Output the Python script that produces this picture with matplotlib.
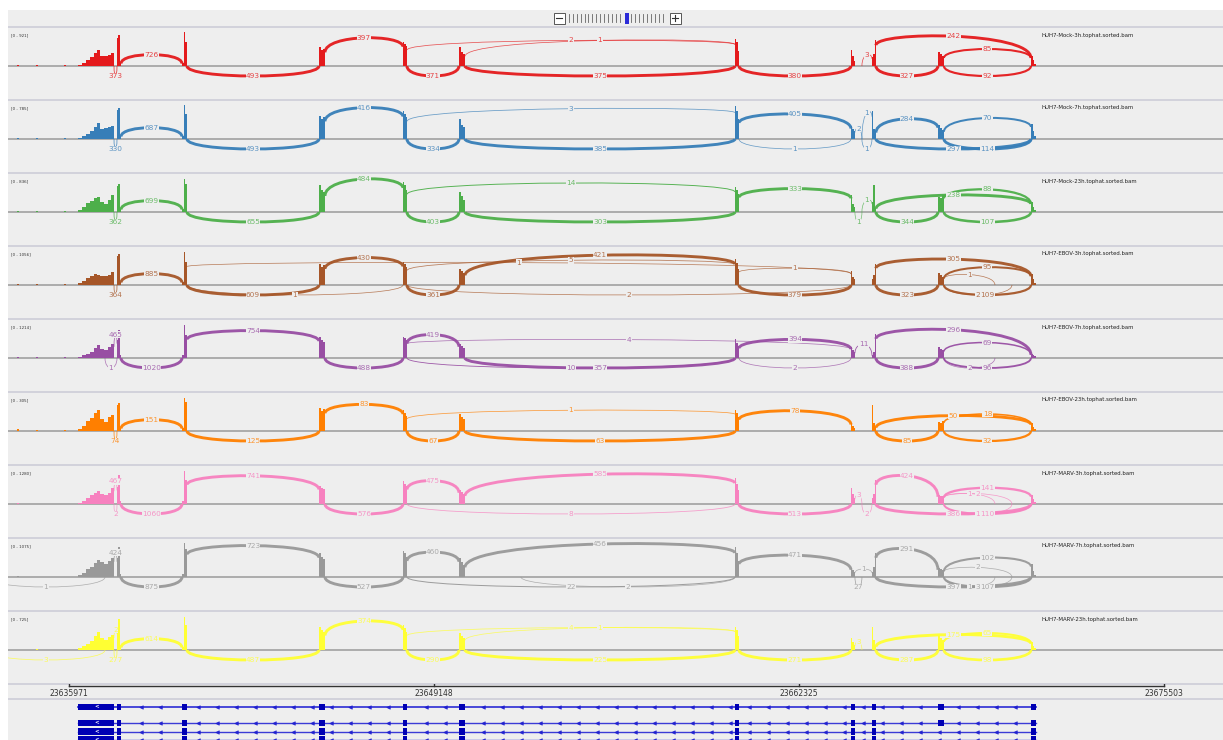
import numpy as np
import matplotlib
matplotlib.use('Agg')
import matplotlib.pyplot as plt
from matplotlib.path import Path
from matplotlib.patches import PathPatch, Rectangle
from matplotlib.colors import to_rgb

W, H = 1223, 740

#---------------- genomic layout (chromosome positions)
tick_pos = [23635971, 23649148, 23662325, 23675503]
view_start, view_end = 23633769, 23677633

exon_names = ['E0', 'E1', 'E2', 'E3', 'E4', 'E5', 'E6', 'E7', 'E8', 'E9', 'E10']
exon_start = [23636296, 23637704, 23640050, 23644996, 23648028, 23650050,
              23660014, 23664201, 23664959, 23667342, 23670699]
exon_end = [23637596, 23637848, 23640231, 23645213, 23648173, 23650267,
            23660158, 23664346, 23665104, 23667558, 23670880]

# extra splice sites that are not exon borders
site_names = ['U0', 'S0', 'M', 'S1', 'X1', 'X2']
site_pos = [23633011, 23637271, 23652288, 23664598, 23669400, 23670013]

# read coverage bins over the 3' UTR (last exon)
ramp_edges = [23636314, 23636440, 23636585, 23636729, 23636873, 23637000,
              23637108, 23637235, 23637379, 23637505, 23637596]
noise_start = [23634094, 23634780, 23635790]

# transcripts of the gene track
tx_exons = [exon_names,
            exon_names,
            [e for e in exon_names if e != 'E9'],
            [e for e in exon_names if e != 'E9']]

#---------------- tracks
track_names = ['HUH7-Mock-3h', 'HUH7-Mock-7h', 'HUH7-Mock-23h',
               'HUH7-EBOV-3h', 'HUH7-EBOV-7h', 'HUH7-EBOV-23h',
               'HUH7-MARV-3h', 'HUH7-MARV-7h', 'HUH7-MARV-23h']
track_ranges = [921, 785, 836, 1056, 1214, 305, 1280, 1075, 725]
track_colors = ['#e41a1c', '#377eb8', '#4daf4a', '#a65628', '#984ea3',
                '#ff7f00', '#f781bf', '#999999', '#ffff33']

# coverage (reads): noise bars, 3'UTR ramp, then E1..E10 in three bins each
mock3h_noise = [26, 26, 26]
mock3h_ramp = [26, 79, 158, 237, 342, 421, 263, 263, 289, 342]
mock3h_exons = [[736, 815, 79], [79, 894, 631], [500, 421, 447], [631, 579, 526],
                [500, 368, 316], [710, 631, 395], [421, 263, 132], [237, 316, 684],
                [368, 316, 263], [263, 158, 53]]

mock7h_noise = [22, 22, 22]
mock7h_ramp = [22, 67, 112, 179, 269, 358, 224, 246, 269, 291]
mock7h_exons = [[650, 694, 67], [67, 762, 560], [515, 448, 493], [627, 560, 493],
                [448, 314, 269], [739, 627, 448], [291, 224, 179], [627, 224, 179],
                [314, 246, 202], [336, 179, 67]]

mock23h_noise = [24, 24, 24]
mock23h_ramp = [48, 120, 215, 263, 335, 359, 239, 191, 287, 406]
mock23h_exons = [[621, 669, 72], [72, 789, 669], [645, 526, 478], [717, 645, 526],
                 [478, 382, 287], [598, 526, 430], [406, 191, 120], [239, 645, 96],
                 [359, 335, 406], [239, 120, 48]]

ebov3h_noise = [30, 30, 30]
ebov3h_ramp = [60, 121, 211, 272, 332, 302, 272, 272, 302, 393]
ebov3h_exons = [[876, 936, 91], [91, 997, 695], [634, 544, 604], [695, 634, 544],
                [483, 423, 362], [785, 664, 483], [423, 242, 181], [181, 302, 634],
                [362, 302, 242], [332, 181, 60]]

ebov7h_noise = [35, 35, 35]
ebov7h_ramp = [35, 104, 139, 208, 347, 451, 312, 278, 382, 486]
ebov7h_exons = [[625, 972, 104], [104, 1145, 798], [729, 625, 555], [729, 694, 625],
                [486, 416, 347], [659, 521, 416], [382, 278, 208], [104, 208, 833],
                [382, 312, 278], [139, 104, 69]]

ebov23h_noise = [17, 9, 9]
ebov23h_ramp = [17, 44, 87, 113, 157, 183, 105, 78, 122, 139]
ebov23h_exons = [[226, 244, 26], [26, 287, 253], [200, 174, 192], [183, 157, 131],
                 [148, 122, 105], [183, 157, 122], [70, 44, 26], [226, 70, 35],
                 [78, 70, 87], [70, 35, 17]]

marv3h_noise = [37, 0, 0]
marv3h_ramp = [37, 110, 220, 329, 403, 476, 366, 329, 403, 586]
marv3h_exons = [[622, 1061, 110], [110, 1208, 878], [659, 586, 549], [842, 732, 659],
                [512, 439, 366], [952, 732, 512], [586, 366, 220], [220, 366, 878],
                [329, 293, 293], [329, 183, 73]]

marv7h_noise = [31, 0, 0]
marv7h_ramp = [61, 123, 246, 307, 430, 522, 461, 399, 491, 583]
marv7h_exons = [[583, 921, 92], [92, 1044, 860], [737, 614, 553], [798, 737, 614],
                [583, 461, 368], [921, 737, 491], [276, 215, 154], [154, 307, 737],
                [276, 246, 215], [399, 184, 61]]

marv23h_noise = [0, 21, 0]
marv23h_ramp = [41, 83, 124, 186, 290, 373, 248, 207, 269, 311]
marv23h_exons = [[414, 642, 62], [62, 683, 518], [476, 414, 373], [518, 455, 373],
                 [352, 290, 248], [476, 414, 290], [248, 166, 104], [476, 207, 83],
                 [311, 248, 207], [166, 83, 41]]

# junctions: (donor, acceptor, reads, side)
mock3h_junc = [('E0', 'E1', 373, 'dn'), ('E1', 'E2', 726, 'up'), ('E2', 'E3', 493, 'dn'),
               ('E3', 'E4', 397, 'up'), ('E4', 'E5', 371, 'dn'), ('E4', 'E6', 2, 'up'),
               ('E5', 'E6', 1, 'up'), ('E5', 'E6', 375, 'dn'), ('E6', 'E7', 380, 'dn'),
               ('S1', 'E8', 3, 'up'), ('E8', 'E9', 327, 'dn'), ('E8', 'E10', 242, 'up'),
               ('E9', 'E10', 85, 'up'), ('E9', 'E10', 92, 'dn')]

mock7h_junc = [('E0', 'E1', 330, 'dn'), ('E1', 'E2', 687, 'up'), ('E2', 'E3', 493, 'dn'),
               ('E3', 'E4', 416, 'up'), ('E4', 'E5', 334, 'dn'), ('E4', 'E6', 3, 'up'),
               ('E5', 'E6', 385, 'dn'), ('E6', 'E7', 405, 'up'), ('E6', 'E7', 1, 'dn'),
               ('E7', 'S1', 2, 'up'), ('S1', 'E8', 1, 'up'), ('S1', 'E8', 1, 'dn'),
               ('E8', 'E9', 284, 'up'), ('E8', 'E10', 297, 'dn'), ('E9', 'E10', 70, 'up'),
               ('E9', 'E10', 114, 'dn')]

mock23h_junc = [('E0', 'E1', 362, 'dn'), ('E1', 'E2', 699, 'up'), ('E2', 'E3', 655, 'dn'),
                ('E3', 'E4', 484, 'up'), ('E4', 'E5', 403, 'dn'), ('E4', 'E6', 14, 'up'),
                ('E5', 'E6', 303, 'dn'), ('E6', 'E7', 333, 'up'), ('E7', 'S1', 1, 'dn'),
                ('S1', 'E8', 1, 'up'), ('E8', 'E9', 344, 'dn'), ('E8', 'E10', 238, 'up'),
                ('E9', 'E10', 88, 'up'), ('E9', 'E10', 107, 'dn')]

ebov3h_junc = [('E0', 'E1', 364, 'dn'), ('E1', 'E2', 885, 'up'), ('E2', 'E3', 609, 'dn'),
               ('E2', 'E4', 1, 'dn'), ('E2', 'E7', 1, 'up'), ('E3', 'E4', 430, 'up'),
               ('E4', 'E5', 361, 'dn'), ('E4', 'E6', 5, 'up'), ('E5', 'E6', 421, 'up'),
               ('E4', 'E7', 2, 'dn'), ('E6', 'E7', 1, 'up'), ('E6', 'E7', 379, 'dn'),
               ('E8', 'E9', 323, 'dn'), ('E8', 'E10', 305, 'up'), ('E9', 'X1', 1, 'up'),
               ('E9', 'E10', 95, 'up'), ('E9', 'X2', 2, 'dn'), ('E9', 'E10', 109, 'dn')]

ebov7h_junc = [('E0', 'E1', 465, 'up'), ('S0', 'E1', 1, 'dn'), ('E1', 'E2', 1020, 'dn'),
               ('E2', 'E3', 754, 'up'), ('E3', 'E4', 488, 'dn'), ('E4', 'E5', 419, 'up'),
               ('E4', 'E6', 10, 'dn'), ('E5', 'E6', 357, 'dn'), ('E4', 'E7', 4, 'up'),
               ('E6', 'E7', 394, 'up'), ('E6', 'E7', 2, 'dn'), ('E7', 'E8', 11, 'up'),
               ('E8', 'E9', 388, 'dn'), ('E8', 'E10', 296, 'up'), ('E9', 'E10', 69, 'up'),
               ('E9', 'X1', 2, 'dn'), ('E9', 'E10', 96, 'dn')]

ebov23h_junc = [('E0', 'E1', 74, 'dn'), ('E1', 'E2', 151, 'up'), ('E2', 'E3', 125, 'dn'),
                ('E3', 'E4', 83, 'up'), ('E4', 'E5', 67, 'dn'), ('E4', 'E6', 1, 'up'),
                ('E5', 'E6', 63, 'dn'), ('E6', 'E7', 78, 'up'), ('E8', 'E9', 85, 'dn'),
                ('E8', 'E10', 50, 'up'), ('E9', 'E10', 18, 'up'), ('E9', 'E10', 32, 'dn')]

marv3h_junc = [('E0', 'E1', 467, 'up'), ('E0', 'E1', 2, 'dn'), ('E1', 'E2', 1060, 'dn'),
               ('E2', 'E3', 741, 'up'), ('E3', 'E4', 576, 'dn'), ('E4', 'E5', 475, 'up'),
               ('E4', 'E6', 8, 'dn'), ('E5', 'E6', 585, 'up'), ('E6', 'E7', 513, 'dn'),
               ('E7', 'S1', 3, 'up'), ('S1', 'E8', 2, 'dn'), ('E8', 'E9', 424, 'up'),
               ('E8', 'E10', 386, 'dn'), ('E9', 'X1', 1, 'up'), ('E9', 'X2', 2, 'up'),
               ('E9', 'E10', 141, 'up'), ('E9', 'X2', 1, 'dn'), ('E9', 'E10', 110, 'dn')]

marv7h_junc = [('U0', 'S0', 1, 'dn'), ('E0', 'E1', 424, 'up'), ('E1', 'E2', 875, 'dn'),
               ('E2', 'E3', 723, 'up'), ('E3', 'E4', 527, 'dn'), ('E4', 'E5', 460, 'up'),
               ('E5', 'E6', 456, 'up'), ('E4', 'E6', 22, 'dn'), ('M', 'E6', 2, 'dn'),
               ('E6', 'E7', 471, 'up'), ('E7', 'E8', 1, 'up'), ('E7', 'S1', 27, 'dn'),
               ('E8', 'E9', 291, 'up'), ('E8', 'E10', 397, 'dn'), ('E9', 'X2', 2, 'up'),
               ('E9', 'E10', 102, 'up'), ('E9', 'X1', 1, 'dn'), ('E9', 'X2', 3, 'dn'),
               ('E9', 'E10', 107, 'dn')]

marv23h_junc = [('U0', 'S0', 3, 'dn'), ('E0', 'E1', 2, 'up'), ('E0', 'E1', 277, 'dn'),
                ('E1', 'E2', 614, 'up'), ('E2', 'E3', 487, 'dn'), ('E3', 'E4', 374, 'up'),
                ('E4', 'E5', 290, 'dn'), ('E4', 'E6', 4, 'up'), ('E5', 'E6', 1, 'up'),
                ('E5', 'E6', 225, 'dn'), ('E6', 'E7', 271, 'dn'), ('E7', 'S1', 3, 'up'),
                ('E8', 'E9', 287, 'dn'), ('E8', 'E10', 175, 'up'), ('E9', 'E10', 65, 'up'),
                ('E9', 'E10', 98, 'dn')]

track_noise = [mock3h_noise, mock7h_noise, mock23h_noise, ebov3h_noise, ebov7h_noise,
               ebov23h_noise, marv3h_noise, marv7h_noise, marv23h_noise]
track_ramp = [mock3h_ramp, mock7h_ramp, mock23h_ramp, ebov3h_ramp, ebov7h_ramp,
              ebov23h_ramp, marv3h_ramp, marv7h_ramp, marv23h_ramp]
track_exons = [mock3h_exons, mock7h_exons, mock23h_exons, ebov3h_exons, ebov7h_exons,
               ebov23h_exons, marv3h_exons, marv7h_exons, marv23h_exons]
track_junc = [mock3h_junc, mock7h_junc, mock23h_junc, ebov3h_junc, ebov7h_junc,
              ebov23h_junc, marv3h_junc, marv7h_junc, marv23h_junc]

BG = '#eeeeee'
SEP = '#cdcdd8'
BP_PER_PX = (view_end - view_start) / 1215.0


def fig_rect(x0, y0, w, h):
    return [x0 / W, 1 - (y0 + h) / H, w / W, h / H]


def site_span(name):
    if name in exon_names:
        k = exon_names.index(name)
        return exon_start[k], exon_end[k]
    p = site_pos[site_names.index(name)]
    return p, p


def edge_cov(name, role, ramp, exons):
    if name == 'E0':
        return ramp[-1] if role == 'donor' else ramp[0]
    if name in exon_names:
        bins = exons[exon_names.index(name) - 1]
        return bins[-1] if role == 'donor' else bins[0]
    return 0


def lighten(c, f):
    r = np.array(to_rgb(c))
    b = np.array(to_rgb(BG))
    return tuple(r * f + b * (1 - f))


fig = plt.figure(figsize=(W / 100, H / 100), dpi=100)
fig.patch.set_facecolor('white')

# grey panel behind everything, with separators between panels
axbg = fig.add_axes([8 / W, 0, 1 - 8 / W, 1 - 10 / H], zorder=-10)
axbg.set_facecolor(BG)
axbg.set_xlim(8, W)
axbg.set_ylim(H, 10)
axbg.set_xticks([])
axbg.set_yticks([])
for sp in axbg.spines.values():
    sp.set_visible(False)
for yy in [27 + 73 * i for i in range(10)] + [699]:
    axbg.axhline(yy, color=SEP, lw=1.2)

#---------------- sashimi tracks
for i in range(len(track_names)):
    top = 27 + 73 * i
    c = track_colors[i]
    M = track_ranges[i]
    s = M / 35.0
    ramp = track_ramp[i]
    exons = track_exons[i]

    ax = fig.add_axes(fig_rect(8, top, 1215, 73))
    ax.set_xlim(view_start, view_end)
    ax.set_ylim(-34 * s, 39 * s)
    ax.axis('off')
    ax.axhline(0, color='#9a9a9a', lw=1.1, zorder=1)

    ax.bar(noise_start, track_noise[i], width=72, align='edge', color=c, lw=0, zorder=2)
    ax.bar(ramp_edges[:-1], ramp, width=np.diff(ramp_edges), align='edge',
           color=c, lw=0, zorder=2)
    for k, bins in enumerate(exons):
        e = np.linspace(exon_start[k + 1], exon_end[k + 1], 4)
        ax.bar(e[:-1], bins, width=np.diff(e), align='edge', color=c, lw=0, zorder=2)

    for d, a, n, side in track_junc[i]:
        x1 = site_span(d)[1]
        x2 = site_span(a)[0]
        lw = (0.7 + 2.2 * min(1.0, n / (0.15 * M))) * 0.72
        if (x2 - x1) / BP_PER_PX < 8:
            lw = 0.5
        if side == 'up':
            y1 = 0.8 * edge_cov(d, 'donor', ramp, exons)
            y2 = 0.8 * edge_cov(a, 'acceptor', ramp, exons)
            peak = min(max(y1, y2) + (9 if n >= 10 else 4) * s, 37 * s)
        else:
            y1 = y2 = 0
            peak = -10 * s
        cy = (peak - (y1 + y2) / 8.0) / 0.75
        path = Path([(x1, y1), (x1, cy), (x2, cy), (x2, y2)],
                    [Path.MOVETO, Path.CURVE4, Path.CURVE4, Path.CURVE4])
        ax.add_patch(PathPatch(path, fill=False, edgecolor=c, lw=lw,
                               alpha=0.95 if n >= 10 else 0.75, zorder=3,
                               capstyle='butt'))
        ax.text((x1 + x2) / 2, peak, str(n), fontsize=5.3, color=lighten(c, 0.8),
                ha='center', va='center', zorder=4,
                bbox=dict(boxstyle='square,pad=0.05', fc=BG, ec='none'))

    ax.text(3 / 1215, 1 - 8 / 73, '[0 - %d]' % M, transform=ax.transAxes,
            fontsize=2.9, color='#333333', va='center', ha='left')
    ax.text(1034 / 1215, 1 - 8 / 73, track_names[i] + '.tophat.sorted.bam',
            transform=ax.transAxes, fontsize=3.9, color='#222222', va='center', ha='left')

#---------------- ruler
axr = fig.add_axes(fig_rect(8, 684, 1215, 15))
axr.set_xlim(view_start, view_end)
axr.set_ylim(15, 0)
axr.axis('off')
axr.plot([tick_pos[0], tick_pos[-1]], [2.2, 2.2], color='#333333', lw=1.0)
for t in tick_pos:
    axr.plot([t, t], [-0.5, 2.2], color='#333333', lw=1.0)
    axr.text(t, 9.5, str(t), fontsize=5.5, color='#333333', ha='center', va='center')

#---------------- gene track
axg = fig.add_axes(fig_rect(8, 699, 1215, 41))
axg.set_xlim(view_start, view_end)
axg.set_ylim(41, 0)
axg.axis('off')
gene_color = '#0000b4'
rows = [8, 24, 32.5, 40.5]
for r, names in zip(rows, tx_exons):
    g0 = exon_start[exon_names.index(names[0])]
    g1 = exon_end[exon_names.index(names[-1])]
    axg.plot([g0, g1], [r, r], color='#3b3bd6', lw=1.3 if r == rows[0] else 1.0, zorder=1)
    marks = np.arange(g0 + 900, g1, 686)
    keep = [m for m in marks
            if not any(exon_start[exon_names.index(e)] - 150 < m < exon_end[exon_names.index(e)] + 150
                       for e in names)]
    axg.plot(keep, [r] * len(keep), ls='none', marker='<', ms=2.6, mew=0.4,
             color='#2020d0', zorder=2)
    for e in names:
        k = exon_names.index(e)
        axg.add_patch(Rectangle((exon_start[k], r - 3.3), exon_end[k] - exon_start[k], 6.6,
                                facecolor=gene_color, edgecolor='none', zorder=3))
    axg.text(23636982, r, '<', fontsize=4, color='white', ha='center', va='center',
             zorder=4, fontweight='bold')

#---------------- zoom widget (top bar)
axz = fig.add_axes(fig_rect(553, 11, 129, 14))
axz.set_xlim(553, 682)
axz.set_ylim(25, 11)
axz.axis('off')
for bx, sym in [(553.5, '-'), (669.5, '+')]:
    axz.add_patch(Rectangle((bx, 12.5), 11, 11, facecolor='white', edgecolor='#555555', lw=0.7))
    axz.plot([bx + 2.5, bx + 8.5], [18, 18], color='#333333', lw=0.8)
    if sym == '+':
        axz.plot([bx + 5.5, bx + 5.5], [15, 21], color='#333333', lw=0.8)
for tx in np.arange(569, 666, 3.9):
    if 623 < tx < 631:
        continue
    axz.plot([tx, tx], [14, 22], color='#666666', lw=0.6)
axz.add_patch(Rectangle((625, 12.5), 4, 11, facecolor='#2b2bd8', edgecolor='none'))

fig.savefig('out.png', dpi=100, facecolor='white')
